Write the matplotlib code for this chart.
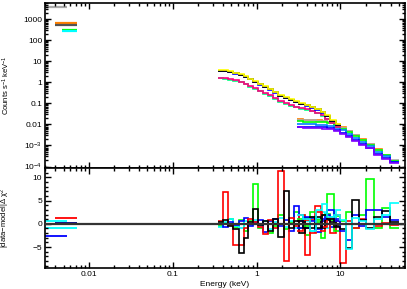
import numpy as np
import matplotlib
matplotlib.use('Agg')
import matplotlib.pyplot as plt

plt.rcParams['font.family'] = ['Liberation Sans', 'DejaVu Sans']
plt.rcParams['mathtext.fontset'] = 'custom'
plt.rcParams['mathtext.rm'] = 'Liberation Sans'
plt.rcParams['mathtext.it'] = 'Liberation Sans:italic'
plt.rcParams['font.size'] = 6

# UVOT filters (keV ranges, rate, residual)
uvot_lo = [0.0030, 0.0039, 0.0039, 0.0048, 0.0048]
uvot_hi = [0.0055, 0.0072, 0.0072, 0.0072, 0.0072]
uvot_rate = [4000, 640, 540, 320, 265]
uvot_res_lo = [0.0039, 0.0030, 0.0039, 0.0030, 0.0030]
uvot_res_hi = [0.0072, 0.0055, 0.0072, 0.0072, 0.0055]
uvot_res = [1.3, 0.5, 0.2, -0.8, -2.7]

# XRT spectra
xrt_edges = [0.35, 0.40, 0.46, 0.53, 0.61, 0.70, 0.80, 0.92, 1.05, 1.20, 1.38, 1.58,
             1.82, 2.10, 2.42, 2.80, 3.25, 3.75, 4.35, 5.0, 5.8, 6.6, 7.6, 8.8, 10.2]
xrt_yellow = [3.9, 3.7, 3.35, 2.95, 2.5, 2.0, 1.5, 1.12, 0.86, 0.66, 0.5, 0.36, 0.25,
              0.195, 0.155, 0.126, 0.104, 0.087, 0.071, 0.056, 0.041, 0.027, 0.016, 0.0102]
xrt_black = [3.6, 3.4, 3.1, 2.7, 2.3, 1.85, 1.4, 1.05, 0.80, 0.62, 0.47, 0.34, 0.23,
             0.18, 0.145, 0.118, 0.097, 0.081, 0.066, 0.052, 0.038, 0.025, 0.015, 0.0095]
xrt_blue = [3.5, 3.35, 3.0, 2.6, 2.2, 1.8, 1.38, 1.02, 0.78, 0.60, 0.46, 0.33, 0.225,
            0.175, 0.14, 0.115, 0.095, 0.079, 0.064, 0.050, 0.037, 0.024, 0.0145, 0.0092]
xrt_pink = [1.65, 1.55, 1.4, 1.25, 1.08, 0.88, 0.68, 0.52, 0.40, 0.31, 0.24, 0.175,
            0.125, 0.10, 0.083, 0.07, 0.060, 0.052, 0.044, 0.036, 0.028, 0.019, 0.012, 0.0078]
xrt_gcyan = [1.55, 1.45, 1.32, 1.18, 1.02, 0.83, 0.64, 0.49, 0.38, 0.29, 0.225, 0.165,
             0.118, 0.095, 0.079, 0.067, 0.057, 0.049, 0.042, 0.034, 0.026, 0.018, 0.0112, 0.0072]

# NuSTAR spectra
nu_edges = [3.0, 3.6, 4.3, 5.1, 6.0, 7.0, 8.3, 9.8, 11.6, 13.8, 16.5, 20, 25, 31, 39, 50]
nu_orange = [0.0175, 0.0170, 0.0166, 0.0160, 0.0150, 0.0132, 0.0100, 0.0073, 0.0050,
             0.0032, 0.0020, 0.00120, 0.00066, 0.00034, 0.00019]
nu_grey = [0.0165, 0.0162, 0.0158, 0.0153, 0.0145, 0.0128, 0.0098, 0.0070, 0.0048,
           0.0031, 0.0019, 0.00115, 0.00064, 0.00037, 0.00021]
nu_green = [0.0140, 0.0138, 0.0135, 0.0131, 0.0125, 0.0112, 0.0088, 0.0064, 0.0044,
            0.0029, 0.0018, 0.00108, 0.00060, 0.00035, 0.00018]
nu_ltblue = [0.0105, 0.0104, 0.0102, 0.0099, 0.0095, 0.0087, 0.0070, 0.0052, 0.0036,
             0.0024, 0.0015, 0.00092, 0.00050, 0.00030, 0.00017]
nu_blue = [0.0080, 0.0079, 0.0077, 0.0075, 0.0072, 0.0066, 0.0053, 0.0040, 0.0028,
           0.0019, 0.0012, 0.00078, 0.00040, 0.00026, 0.00016]
nu_purple = [0.0072, 0.0071, 0.0069, 0.0067, 0.0064, 0.0059, 0.0047, 0.0035, 0.0025,
             0.0017, 0.0011, 0.00072, 0.00036, 0.00024, 0.00015]

# residuals, (data-model) delta chi^2
res_xrt_black = [0.3, 0.8, -0.5, -1.2, -6.2, -3.0, 0.4, 3.2, -0.3, 0.6, -1.5, 1.0, -2.8,
                 7.0, -1.0, 0.5, -2.0, 1.2, -0.8, 1.5, -1.0, 0.8, 0.3, -0.5]
res_xrt_red = [0.5, 6.8, -0.3, -4.6, -4.6, -0.8, 1.0, 0.4, -0.6, -2.2, 0.8, -1.0, 11.3,
               -7.9, 1.2, -0.5, 2.0, -6.8, 0.9, 3.8, -1.5, 1.0, -2.0, 0.6]
res_xrt_green = [-0.4, 0.2, 1.0, -0.6, 0.8, -1.5, 0.5, 8.5, -0.8, 0.6, -2.0, -0.5, 1.8,
                 -1.2, 0.3, 2.5, -1.0, -2.5, 1.5, 0.4, -3.0, 2.2, 0.8, 1.6]
res_xrt_blue = [0.0, -0.6, 0.4, -0.2, 0.6, 1.2, -0.5, 0.3, 0.8, -1.8, 0.6, 1.0, -0.5,
                0.9, -1.5, 3.8, 0.5, -0.8, 1.2, -1.8, 0.6, 2.0, -0.6, 1.0]
res_xrt_cyan = [-0.6, 0.4, 1.0, -0.4, -0.8, 0.6, -0.3, 0.8, -0.5, 0.5, -1.2, 0.4, 1.2,
                -0.6, 0.7, -1.0, 1.8, 0.5, -1.5, 1.0, 2.5, -0.8, 1.5, 3.0]
res_nu_black = [0.5, -1.0, 1.5, -0.8, 2.0, 1.0, -0.6, -1.2, -5.3, 5.1, 0.8, -1.0, 1.5,
                2.8, 0.4]
res_nu_red = [-1.5, 0.8, -2.0, 2.5, -0.6, 1.2, 2.0, -8.5, 0.6, -1.0, 1.0, 0.0, -0.4,
              0.2, -0.2]
res_nu_green = [1.0, -0.5, 2.5, 0.8, 1.8, 6.4, -1.5, 0.5, 2.5, -0.8, 1.8, 9.6, -1.0,
                3.5, -0.8]
res_nu_blue = [-0.8, 1.5, 0.5, -1.2, 1.0, 3.0, 0.6, -1.5, -3.5, 2.0, -0.5, 3.0, 3.0,
               1.5, 0.8]
res_nu_cyan = [2.0, 1.0, -1.5, 3.0, 4.2, 1.5, 2.0, 0.8, -5.5, 1.2, 0.6, -1.2, 1.0,
               2.0, 4.5]

C_ORANGE = (1, 0.5, 0)
C_LGREY = (0.67, 0.67, 0.67)
C_DGREY = (0.33, 0.33, 0.33)
C_GCYAN = (0, 1, 0.5)
C_LBLUE = (0, 0.5, 1)
C_PURPLE = (0.5, 0, 1)
C_PINK = (1, 0, 0.5)

fig = plt.figure(figsize=(4.07, 2.89), dpi=100)
ax1 = fig.add_axes([45 / 407, 121 / 289, 360 / 407, 165 / 289])
ax2 = fig.add_axes([45 / 407, 21 / 289, 360 / 407, 100 / 289], sharex=ax1)

lw = 1.2

# top panel
uvot_cols = [C_LGREY, C_ORANGE, C_DGREY, (0, 1, 0), (0, 1, 1)]
for lo, hi, r, c in zip(uvot_lo, uvot_hi, uvot_rate, uvot_cols):
    ax1.stairs([r], [lo, hi], baseline=None, color=c, lw=1.6)

nu_sets = [(nu_orange, C_ORANGE), (nu_grey, C_LGREY), (nu_green, (0, 1, 0)),
           (nu_ltblue, C_LBLUE), (nu_blue, (0, 0, 1)), (nu_purple, C_PURPLE)]
for vals, c in nu_sets:
    ax1.stairs(vals, nu_edges, baseline=None, color=c, lw=lw)

xrt_sets = [(xrt_gcyan, C_GCYAN), (xrt_pink, C_PINK), (xrt_blue, (0, 0, 1)),
            (xrt_black, 'black'), (xrt_yellow, (1, 1, 0))]
for vals, c in xrt_sets:
    ax1.stairs(vals, xrt_edges, baseline=None, color=c, lw=lw)

ax1.set_xscale('log')
ax1.set_yscale('log')
ax1.set_xlim(0.003, 59)
ax1.set_ylim(8.5e-5, 6000)
ax1.set_yticks([1e-4, 1e-3, 0.01, 0.1, 1, 10, 100, 1000])
ax1.set_yticklabels([r'$\mathregular{10^{-4}}$', r'$\mathregular{10^{-3}}$', '0.01', '0.1',
                     '1', '10', '100', '1000'])
ax1.tick_params(labelbottom=False)
ax1.set_ylabel(r'Counts s$^{-1}$ keV$^{-1}$', fontsize=5.5)

# bottom panel
ucols = ['red', 'cyan', 'navy', 'cyan', 'blue']
for lo, hi, r, c in zip(uvot_res_lo, uvot_res_hi, uvot_res, ucols):
    ax2.stairs([r], [lo, hi], baseline=None, color=c, lw=1.3)

for vals, c in [(res_xrt_green, (0, 1, 0)), (res_xrt_cyan, 'cyan'), (res_xrt_blue, 'blue'),
                (res_xrt_red, 'red'), (res_xrt_black, 'black')]:
    ax2.stairs(vals, xrt_edges, baseline=None, color=c, lw=lw)
for vals, c in [(res_nu_green, (0, 1, 0)), (res_nu_red, 'red'), (res_nu_blue, 'blue'),
                (res_nu_black, 'black'), (res_nu_cyan, 'cyan')]:
    ax2.stairs(vals, nu_edges, baseline=None, color=c, lw=lw)

ax2.axhline(0, color=(0.2, 0.2, 0.2), lw=1.6, zorder=5)
ax2.set_ylim(-9.5, 12)
ax2.set_yticks([-5, 0, 5, 10])
ax2.set_yticks(np.arange(-9, 12, 1), minor=True)
ax2.set_xticks([0.01, 0.1, 1, 10])
ax2.set_xticklabels(['0.01', '0.1', '1', '10'])
ax2.set_xlabel('Energy (keV)', labelpad=2)
ax2.set_ylabel('|data\u2212model|\u0394 \u03c7$^2$', fontsize=5.5)

for ax in (ax1, ax2):
    for s in ax.spines.values():
        s.set_linewidth(1.2)
    ax.tick_params(which='both', direction='in', top=True, right=True, width=1.0, pad=2)
    ax.tick_params(which='major', length=4)
    ax.tick_params(which='minor', length=2)
    ax.yaxis.set_label_coords(-0.092, 0.5)

plt.savefig('out.png', dpi=100)
